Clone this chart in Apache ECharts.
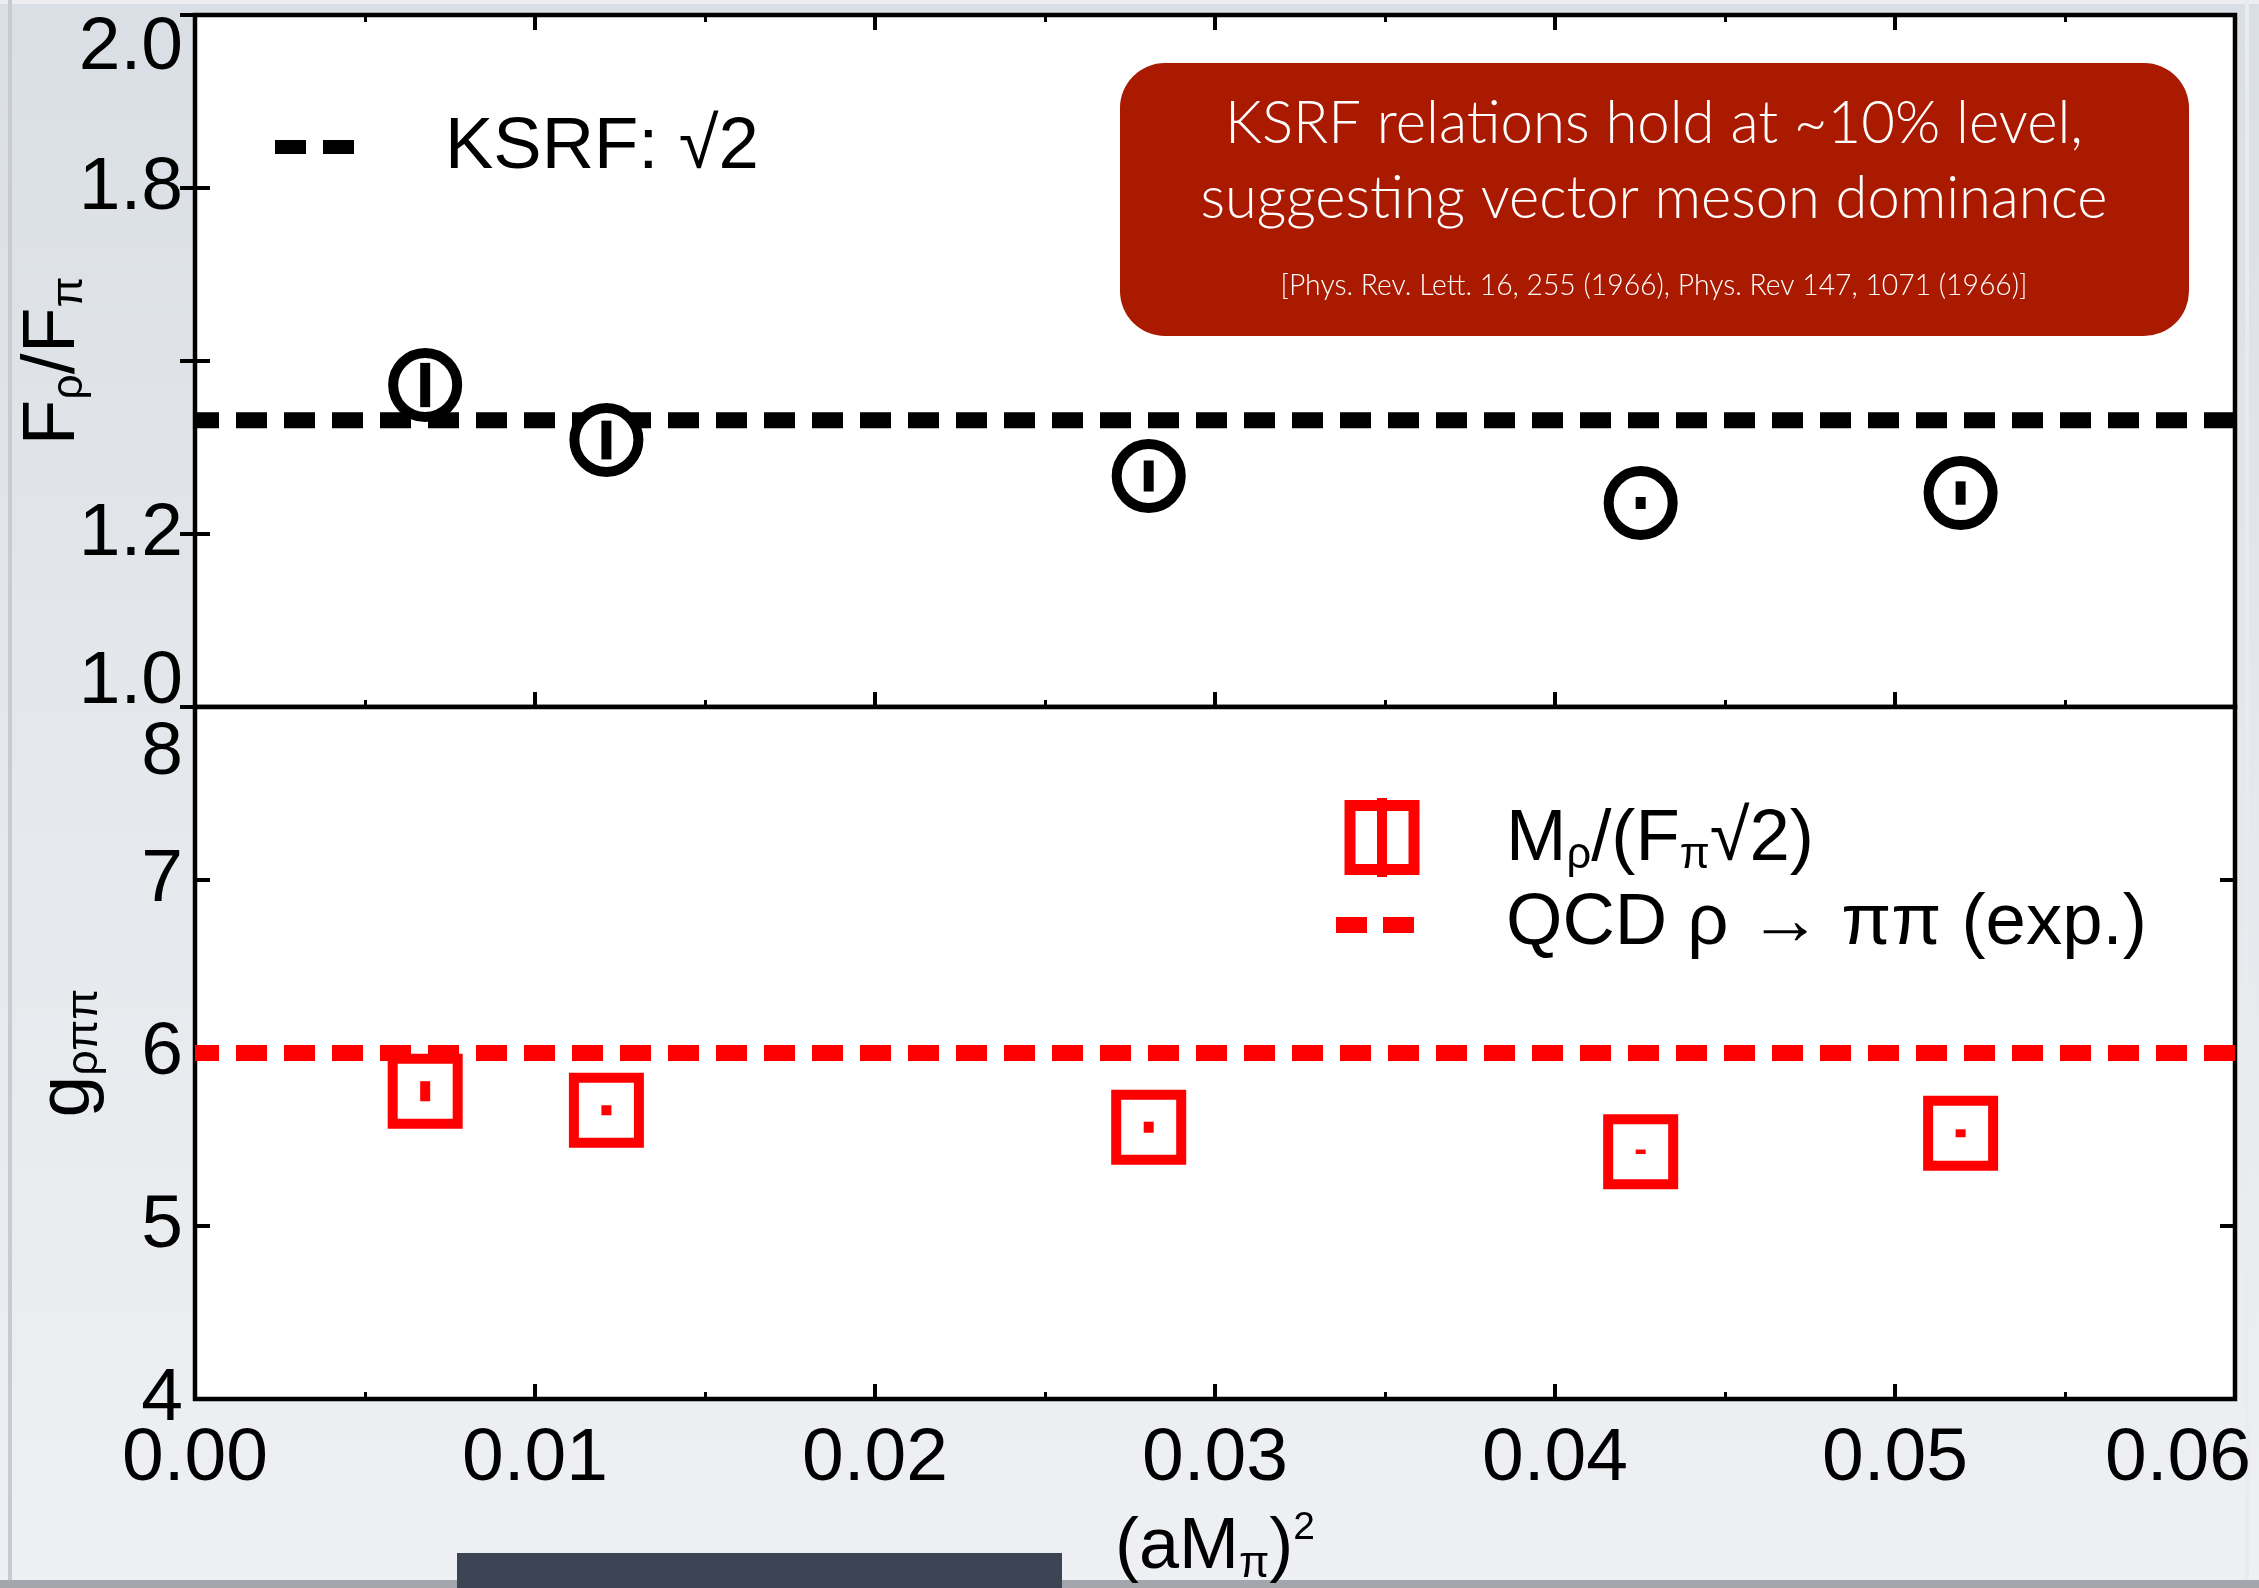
<!DOCTYPE html>
<html>
<head>
<meta charset="utf-8">
<script src="https://cdn.jsdelivr.net/npm/echarts@6/dist/echarts.min.js"></script>
<style>
  html, body { margin: 0; padding: 0; }
  #chart {
    width: 2259px; height: 1588px;
    background: linear-gradient(180deg, #dadfe5 0%, #e5e8ec 50%, #eef0f3 100%);
  }
</style>
</head>
<body>
<div id="chart"></div>
<script>
// (aM_pi)^2 of each ensemble
const aMpiSq = [0.00677, 0.01210, 0.02805, 0.04252, 0.05193];
// F_rho / F_pi with errors
const fRatio = [1.4653, 1.3858, 1.3338, 1.2948, 1.3092];
const fRatioErr = [0.032, 0.028, 0.0224, 0.0087, 0.0169];
// g_rho_pi_pi = M_rho / (F_pi sqrt 2) with errors
const gRho = [5.779, 5.669, 5.571, 5.429, 5.536];
const gRhoErr = [0.058, 0.029, 0.032, 0.013, 0.023];
// horizontal reference lines
const refLineX = [0, 0.06];
const ksrfValue = 1.41421;   // sqrt(2)
const gExpValue = 6.0;       // rho -> pi pi (exp.)
// tick labels
const xTickLabels = ['0.00', '0.01', '0.02', '0.03', '0.04', '0.05', '0.06'];
const yTopTickLabels = ['1.0', '1.2', '', '1.8', '2.0'];
const yBottomTickLabels = ['4', '5', '6', '7', '8'];

const FONT = "'Liberation Sans', Arial, Helvetica, sans-serif";
const BOX_FONT = "Lato, 'Open Sans', sans-serif";
const RED = '#ff0000';
const LEG_SIZE = 72.5;
const LEG_SUB = 43.5;

const chart = echarts.init(document.getElementById('chart'), null, { renderer: 'canvas' });

const tickInside = { show: true, inside: true, length: 15, lineStyle: { color: '#000', width: 4 } };
const minorInside = { show: true, splitNumber: 2, length: 7, lineStyle: { color: '#000', width: 3 } };
const noSplit = { show: false };

function labelStyle(extra) {
  return Object.assign({ fontSize: 75, fontFamily: FONT, color: '#000' }, extra);
}

function tickIndex(v, min, step) { return Math.round((v - min) / step); }

// error bar glyph: a filled bar from lo to hi
function errorBar(color) {
  return function (params, api) {
    const x = api.value(0);
    const lo = api.coord([x, api.value(1)]);
    const hi = api.coord([x, api.value(2)]);
    return {
      type: 'rect',
      shape: { x: lo[0] - 5, y: hi[1], width: 10, height: lo[1] - hi[1] },
      style: { fill: color }
    };
  };
}

// horizontal squeeze so a line of box text spans the wanted width
const measureCtx = document.createElement('canvas').getContext('2d');
function squeeze(str, font, target) {
  measureCtx.font = font;
  const w = measureCtx.measureText(str).width;
  return w > 0 ? target / w : 1;
}

const boxLines = [
  { text: 'KSRF relations hold at ~10% level,', size: 59, y: 124, width: 858 },
  { text: 'suggesting vector meson dominance', size: 59, y: 199, width: 907 },
  { text: '[Phys. Rev. Lett. 16, 255 (1966), Phys. Rev 147, 1071 (1966)]', size: 30, y: 285, width: 747 }
];

const graphics = [
  // slide edges and the bar at the bottom
  { type: 'rect', silent: true, shape: { x: 0, y: 0, width: 2259, height: 4 }, style: { fill: '#eceef1' } },
  { type: 'rect', silent: true, shape: { x: 8, y: 0, width: 4, height: 1588 }, style: { fill: '#c8ccd2' } },
  { type: 'rect', silent: true, shape: { x: 2245, y: 0, width: 4, height: 1588 }, style: { fill: '#e9ebee' } },
  { type: 'rect', silent: true, shape: { x: 0, y: 1580, width: 2259, height: 8 }, style: { fill: '#a3a7ad' } },
  { type: 'rect', silent: true, shape: { x: 457, y: 1553, width: 605, height: 35 }, style: { fill: '#3d4453' } },

  // annotation box
  { type: 'rect', silent: true, z: 10,
    shape: { x: 1120, y: 63, width: 1069, height: 273, r: 45 },
    style: { fill: '#a91a01' } }
];

boxLines.forEach(function (ln) {
  const font = '300 ' + ln.size + 'px ' + BOX_FONT;
  graphics.push({
    type: 'text', silent: true, z: 11,
    x: 1654, y: ln.y,
    scaleX: squeeze(ln.text, font, ln.width),
    style: {
      text: ln.text, fill: '#ffffff',
      fontSize: ln.size, fontFamily: BOX_FONT, fontWeight: 300,
      align: 'center', verticalAlign: 'middle'
    }
  });
});

// legends
graphics.push(
  { type: 'line', silent: true, z: 10,
    shape: { x1: 275, y1: 147, x2: 355, y2: 147 },
    style: { stroke: '#000', lineWidth: 14, lineDash: [31, 17] } },
  { type: 'text', silent: true, z: 10, x: 445, y: 148,
    style: { text: 'KSRF: \u221a2', fill: '#000', fontSize: LEG_SIZE, fontFamily: FONT,
             align: 'left', verticalAlign: 'middle' } },

  { type: 'rect', silent: true, z: 10,
    shape: { x: 1350, y: 805.5, width: 64, height: 64 },
    style: { fill: '#fff', stroke: RED, lineWidth: 11 } },
  { type: 'rect', silent: true, z: 11,
    shape: { x: 1377, y: 798, width: 10, height: 79 },
    style: { fill: RED } },
  { type: 'text', silent: true, z: 10, x: 1506, y: 840,
    style: { text: 'M{s|\u03c1}/(F{s|\u03c0}\u221a2)', fill: '#000', fontSize: LEG_SIZE, fontFamily: FONT,
             lineHeight: 76, align: 'left', verticalAlign: 'middle',
             rich: { s: { fontSize: LEG_SUB, fontFamily: FONT, fill: '#000', verticalAlign: 'bottom' } } } },

  { type: 'line', silent: true, z: 10,
    shape: { x1: 1336, y1: 925, x2: 1416, y2: 925 },
    style: { stroke: RED, lineWidth: 16, lineDash: [31, 16] } },
  { type: 'text', silent: true, z: 10, x: 1506, y: 924,
    style: { text: 'QCD \u03c1 \u2192 \u03c0\u03c0 (exp.)', fill: '#000', fontSize: LEG_SIZE, fontFamily: FONT,
             align: 'left', verticalAlign: 'middle' } },

  // axis titles
  { type: 'text', silent: true, z: 10, x: 53, y: 361, rotation: Math.PI / 2,
    style: { text: 'F{s|\u03c1}/F{s|\u03c0}', fill: '#000', fontSize: 75, fontFamily: FONT,
             lineHeight: 78, align: 'center', verticalAlign: 'middle',
             rich: { s: { fontSize: 45, fontFamily: FONT, fill: '#000', verticalAlign: 'bottom' } } } },
  { type: 'text', silent: true, z: 10, x: 68, y: 1053, rotation: Math.PI / 2,
    style: { text: 'g{s|\u03c1\u03c0\u03c0}', fill: '#000', fontSize: 75, fontFamily: FONT,
             lineHeight: 78, align: 'center', verticalAlign: 'middle',
             rich: { s: { fontSize: 45, fontFamily: FONT, fill: '#000', verticalAlign: 'bottom' } } } },
  { type: 'text', silent: true, z: 10, x: 1215, y: 1548,
    style: { text: '(aM{s|\u03c0}){p|2}', fill: '#000', fontSize: 72, fontFamily: FONT,
             lineHeight: 78, align: 'center', verticalAlign: 'middle',
             rich: {
               s: { fontSize: 44, fontFamily: FONT, fill: '#000', verticalAlign: 'bottom' },
               p: { fontSize: 39, fontFamily: FONT, fill: '#000', verticalAlign: 'top' }
             } } }
);

const gridCommon = {
  left: 195, width: 2040, height: 692,
  show: true, backgroundColor: '#ffffff', borderColor: '#000', borderWidth: 4.5,
  containLabel: false, outerBoundsMode: 'none'
};

const xCommon = {
  type: 'value', min: 0, max: 0.06, interval: 0.01,
  axisLine: { show: false }, axisTick: tickInside, minorTick: minorInside,
  splitLine: noSplit, minorSplitLine: noSplit
};

const option = {
  animation: false,
  backgroundColor: 'transparent',
  grid: [
    Object.assign({ top: 15 }, gridCommon),
    Object.assign({ top: 707 }, gridCommon)
  ],
  xAxis: [
    Object.assign({ gridIndex: 0, position: 'bottom', axisLabel: { show: false } }, xCommon),
    Object.assign({ gridIndex: 0, position: 'top', axisLabel: { show: false } }, xCommon),
    Object.assign({ gridIndex: 1, position: 'bottom',
      axisLabel: labelStyle({
        show: true, margin: 23,
        formatter: function (v) {
          const i = tickIndex(v, 0, 0.01);
          return i === xTickLabels.length - 1 ? '{end|' + xTickLabels[i] + '}' : xTickLabels[i];
        },
        rich: { end: labelStyle({ padding: [0, 114, 0, 0] }) }
      }) }, xCommon)
  ],
  yAxis: [
    { gridIndex: 0, type: 'value', position: 'left', min: 1, max: 2, interval: 0.25,
      axisLine: { show: false }, axisTick: tickInside, splitLine: noSplit,
      axisLabel: labelStyle({
        margin: 12,
        formatter: function (v) {
          const i = tickIndex(v, 1, 0.25);
          const t = yTopTickLabels[i];
          if (!t) return '';
          if (i === 0) return '{lo|' + t + '}';
          if (i === yTopTickLabels.length - 1) return '{hi|' + t + '}';
          return t;
        },
        rich: {
          lo: labelStyle({ padding: [0, 0, 50, 0] }),
          hi: labelStyle({ padding: [67, 0, 0, 0] })
        }
      }) },
    { gridIndex: 0, type: 'value', position: 'right', min: 1, max: 2, interval: 0.25,
      axisLine: { show: false }, axisTick: tickInside, splitLine: noSplit, axisLabel: { show: false } },
    { gridIndex: 1, type: 'value', position: 'left', min: 4, max: 8, interval: 1,
      axisLine: { show: false }, axisTick: tickInside, splitLine: noSplit,
      axisLabel: labelStyle({
        margin: 12,
        formatter: function (v) {
          const i = tickIndex(v, 4, 1);
          const t = yBottomTickLabels[i];
          return i === yBottomTickLabels.length - 1 ? '{hi|' + t + '}' : t;
        },
        rich: { hi: labelStyle({ padding: [93, 0, 0, 0] }) }
      }) },
    { gridIndex: 1, type: 'value', position: 'right', min: 4, max: 8, interval: 1,
      axisLine: { show: false }, axisTick: tickInside, splitLine: noSplit, axisLabel: { show: false } }
  ],
  series: [
    { type: 'line', xAxisIndex: 0, yAxisIndex: 0, silent: true, z: 2,
      data: refLineX.map(function (x) { return [x, ksrfValue]; }),
      symbol: 'none',
      lineStyle: { color: '#000', width: 16, type: [31, 17], dashOffset: 7, cap: 'butt' } },
    { type: 'scatter', xAxisIndex: 0, yAxisIndex: 0, silent: true, z: 3,
      data: aMpiSq.map(function (x, i) { return [x, fRatio[i]]; }),
      symbol: 'circle', symbolSize: 64,
      itemStyle: { color: '#fff', borderColor: '#000', borderWidth: 10, opacity: 1 } },
    { type: 'custom', xAxisIndex: 0, yAxisIndex: 0, silent: true, z: 4,
      renderItem: errorBar('#000'),
      data: aMpiSq.map(function (x, i) { return [x, fRatio[i] - fRatioErr[i], fRatio[i] + fRatioErr[i]]; }) },

    { type: 'line', xAxisIndex: 2, yAxisIndex: 2, silent: true, z: 2,
      data: refLineX.map(function (x) { return [x, gExpValue]; }),
      symbol: 'none',
      lineStyle: { color: RED, width: 16, type: [31, 17], dashOffset: 7, cap: 'butt' } },
    { type: 'scatter', xAxisIndex: 2, yAxisIndex: 2, silent: true, z: 3,
      data: aMpiSq.map(function (x, i) { return [x, gRho[i]]; }),
      symbol: 'rect', symbolSize: 65,
      itemStyle: { color: '#fff', borderColor: RED, borderWidth: 10, opacity: 1 } },
    { type: 'custom', xAxisIndex: 2, yAxisIndex: 2, silent: true, z: 4,
      renderItem: errorBar(RED),
      data: aMpiSq.map(function (x, i) { return [x, gRho[i] - gRhoErr[i], gRho[i] + gRhoErr[i]]; }) }
  ],
  graphic: { elements: graphics }
};

chart.setOption(option);
</script>
</body>
</html>
